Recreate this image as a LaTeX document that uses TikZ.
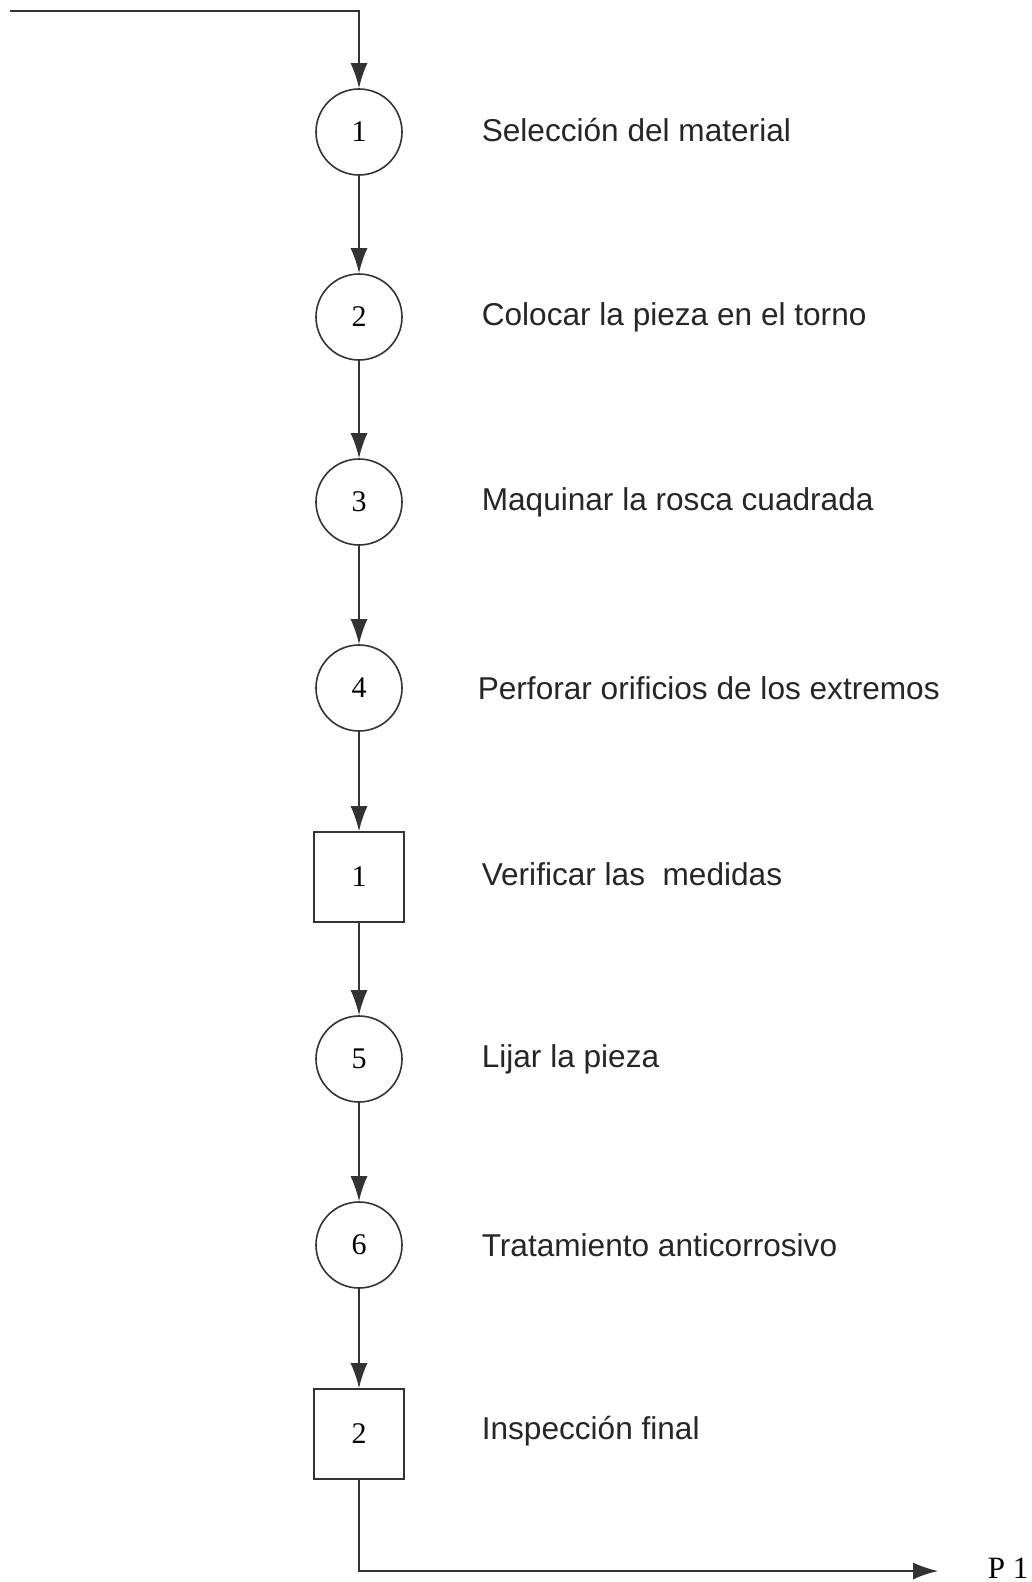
\documentclass[tikz,border=0pt]{standalone}
\usepackage{fontspec}
\setmainfont{Liberation Serif}
\newfontfamily\lblfont{Liberation Sans}
\usetikzlibrary{arrows.meta}
\begin{document}
\begin{tikzpicture}[x=1pt,y=-1pt,
  line width=1.6pt,
  opcirc/.style={draw=black!80,circle,minimum size=86pt,inner sep=0pt,font=\fontsize{30}{30}\selectfont},
  insp/.style={draw=black!80,rectangle,minimum width=90pt,minimum height=90pt,inner sep=0pt,font=\fontsize{30}{30}\selectfont},
  lbl/.style={anchor=west,inner sep=0pt,font=\lblfont\fontsize{31.6}{31.6}\selectfont,text=black!85},
  flow/.style={draw=black!80,-{Latex[length=25pt,width=17pt]}}]
\useasboundingbox (0,0) rectangle (1032,1582);
\node[opcirc] (c1) at (359,132) {1};
\node[opcirc] (c2) at (359,317) {2};
\node[opcirc] (c3) at (359,502) {3};
\node[opcirc] (c4) at (359,688) {4};
\node[insp]   (s1) at (359,877) {1};
\node[opcirc] (c5) at (359,1059) {5};
\node[opcirc] (c6) at (359,1245) {6};
\node[insp]   (s2) at (359,1434) {2};
\node[lbl] (l1) at (481,130) {Selección del material};
\node[lbl] (l2) at (481,317) {Colocar la pieza en el torno};
\node[lbl] (l3) at (481,502) {Maquinar la rosca cuadrada};
\node[lbl] (l4) at (477,688) {Perforar orificios de los extremos};
\node[lbl] (l5) at (481,874) {Verificar las\ \ medidas};
\node[lbl] (l6) at (481,1059) {Lijar la pieza};
\node[lbl] (l7) at (481,1245) {Tratamiento anticorrosivo};
\node[lbl] (l8) at (481,1431) {Inspección final};
\coordinate (start) at (10,11);
\coordinate (corner) at (359,11);
\coordinate (bend) at (359,1571);
\coordinate (endp) at (938,1571);
\node[anchor=west,inner sep=0pt,font=\fontsize{31}{31}\selectfont] (p1) at (987,1568) {P 1};
\draw[flow] (start) -- (corner) -- (c1.north);
\draw[flow] (c1) -- (c2);
\draw[flow] (c2) -- (c3);
\draw[flow] (c3) -- (c4);
\draw[flow] (c4) -- (s1);
\draw[flow] (s1) -- (c5);
\draw[flow] (c5) -- (c6);
\draw[flow] (c6) -- (s2);
\draw[flow] (s2.south) -- (bend) -- (endp);
\end{tikzpicture}
\end{document}
